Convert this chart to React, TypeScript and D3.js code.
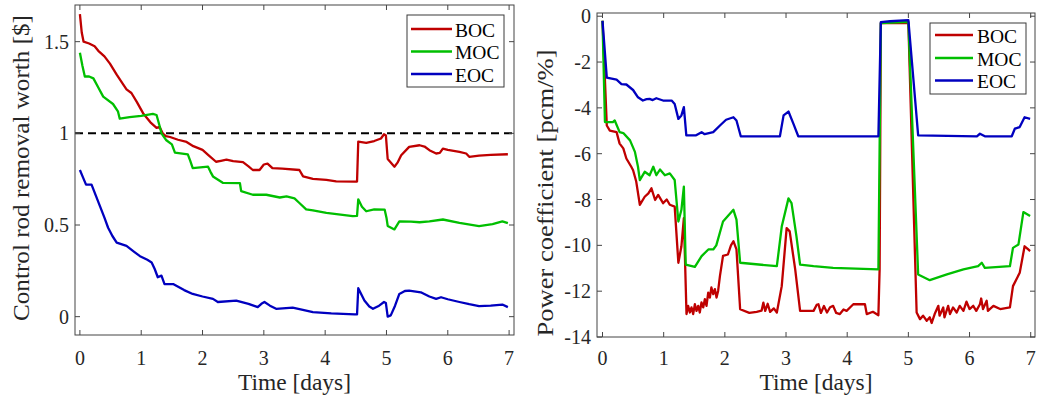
import React from "react";
import * as d3 from "d3";

// ---------- Data ----------
const dayTicks = [0, 1, 2, 3, 4, 5, 6, 7];
const worthTicks = [0, 0.5, 1, 1.5];
const coefTicks = [0, -2, -4, -6, -8, -10, -12, -14];
const seriesNames = ["BOC", "MOC", "EOC"];
const seriesColors = ["#bf0000", "#00bf00", "#0000bf"];

// Left panel: control rod removal worth [$]
const worthBOC_t = [0, 0.03, 0.06, 0.15, 0.24, 0.3, 0.4, 0.49, 0.6, 0.7, 0.76, 0.84, 0.93, 1.03, 1.15, 1.25, 1.3, 1.35, 1.4, 1.47, 1.6, 1.74, 1.85, 2.0, 2.1, 2.22, 2.3, 2.39, 2.5, 2.66, 2.75, 2.82, 2.93, 3.0, 3.06, 3.14, 3.3, 3.58, 3.64, 3.8, 4.02, 4.18, 4.48, 4.52, 4.54, 4.67, 4.8, 4.91, 4.96, 4.99, 5.02, 5.13, 5.18, 5.24, 5.37, 5.54, 5.62, 5.7, 5.81, 5.87, 5.92, 6.0, 6.19, 6.3, 6.35, 6.51, 6.7, 6.98];
const worthBOC_v = [1.65, 1.55, 1.5, 1.49, 1.475, 1.45, 1.42, 1.38, 1.32, 1.27, 1.24, 1.22, 1.17, 1.11, 1.06, 1.03, 1.035, 1.0, 0.985, 0.98, 0.965, 0.953, 0.93, 0.91, 0.88, 0.845, 0.85, 0.856, 0.848, 0.843, 0.82, 0.8, 0.8, 0.83, 0.835, 0.81, 0.807, 0.8, 0.765, 0.752, 0.746, 0.738, 0.737, 0.737, 0.955, 0.948, 0.958, 0.972, 0.995, 0.99, 0.86, 0.818, 0.84, 0.88, 0.926, 0.935, 0.928, 0.908, 0.89, 0.893, 0.917, 0.91, 0.899, 0.89, 0.872, 0.878, 0.882, 0.886];

const worthMOC_t = [0, 0.04, 0.08, 0.15, 0.22, 0.3, 0.38, 0.54, 0.62, 0.65, 0.81, 1.0, 1.19, 1.25, 1.3, 1.33, 1.41, 1.5, 1.55, 1.76, 1.8, 1.84, 2.09, 2.13, 2.17, 2.33, 2.61, 2.63, 2.82, 3.04, 3.26, 3.37, 3.5, 3.58, 3.69, 3.8, 4.02, 4.45, 4.52, 4.54, 4.6, 4.67, 4.8, 4.97, 5.0, 5.02, 5.13, 5.21, 5.4, 5.54, 5.7, 5.92, 6.19, 6.51, 6.73, 6.89, 6.98];
const worthMOC_v = [1.44, 1.37, 1.31, 1.31, 1.3, 1.25, 1.2, 1.16, 1.12, 1.08, 1.088, 1.095, 1.106, 1.1, 1.04, 1.0, 0.962, 0.94, 0.895, 0.885, 0.85, 0.81, 0.818, 0.79, 0.765, 0.73, 0.728, 0.685, 0.665, 0.665, 0.65, 0.656, 0.645, 0.62, 0.585, 0.58, 0.566, 0.548, 0.55, 0.64, 0.6, 0.575, 0.585, 0.584, 0.54, 0.495, 0.476, 0.52, 0.518, 0.515, 0.52, 0.53, 0.512, 0.494, 0.505, 0.52, 0.51];

const worthEOC_t = [0, 0.05, 0.1, 0.19, 0.26, 0.33, 0.4, 0.46, 0.53, 0.6, 0.76, 0.88, 0.98, 1.1, 1.17, 1.22, 1.27, 1.33, 1.38, 1.52, 1.7, 1.84, 2.0, 2.17, 2.25, 2.55, 2.75, 2.9, 2.96, 3.01, 3.1, 3.2, 3.47, 3.6, 3.8, 4.1, 4.48, 4.52, 4.54, 4.64, 4.72, 4.78, 4.88, 4.96, 4.99, 5.02, 5.07, 5.14, 5.21, 5.3, 5.37, 5.56, 5.7, 5.81, 5.89, 6.0, 6.19, 6.35, 6.51, 6.7, 6.89, 6.98];
const worthEOC_v = [0.8, 0.76, 0.72, 0.72, 0.66, 0.6, 0.54, 0.485, 0.44, 0.404, 0.386, 0.355, 0.33, 0.31, 0.296, 0.26, 0.215, 0.224, 0.178, 0.178, 0.145, 0.124, 0.11, 0.097, 0.08, 0.088, 0.07, 0.052, 0.07, 0.08, 0.06, 0.043, 0.049, 0.04, 0.025, 0.018, 0.012, 0.012, 0.155, 0.088, 0.055, 0.043, 0.06, 0.08, 0.075, 0.0, 0.007, 0.06, 0.124, 0.14, 0.142, 0.133, 0.11, 0.097, 0.106, 0.095, 0.08, 0.068, 0.058, 0.06, 0.066, 0.052];

// Right panel: power coefficient [pcm/%]
const coefBOC_t = [0, 0.07, 0.12, 0.23, 0.28, 0.34, 0.39, 0.47, 0.5, 0.55, 0.61, 0.69, 0.75, 0.8, 0.86, 0.91, 0.99, 1.05, 1.1, 1.18, 1.24, 1.29, 1.33,
  1.373, 1.4, 1.428, 1.455, 1.482, 1.51, 1.537, 1.564, 1.59, 1.618, 1.646, 1.673, 1.7, 1.728, 1.755, 1.78, 1.81, 1.837, 1.864, 1.89, 1.92, 1.97,
  2.05, 2.1, 2.14, 2.19, 2.25, 2.4, 2.52, 2.6, 2.63, 2.66, 2.7, 2.74, 2.8, 2.85, 2.93, 3.01, 3.06, 3.15, 3.23, 3.45, 3.5, 3.53, 3.57, 3.62, 3.67, 3.72, 3.77, 3.82, 3.88, 3.94, 3.99, 4.05, 4.1, 4.29, 4.32, 4.42, 4.51, 4.53, 4.55, 5.0,
  5.135, 5.19, 5.24, 5.3, 5.35, 5.38, 5.43, 5.49, 5.51, 5.57, 5.59, 5.65, 5.68, 5.73, 5.79, 5.84, 5.9, 5.95, 6.0, 6.06, 6.11, 6.17, 6.19, 6.22, 6.28, 6.3, 6.39, 6.5, 6.66,
  6.71, 6.82, 6.9, 6.96, 6.99];
const coefBOC_v = [-0.2, -4.77, -4.99, -5.06, -5.56, -5.77, -6.21, -6.57, -6.72, -7.2, -8.23, -7.88, -7.73, -7.51, -8.02, -7.8, -8.16, -8.0, -8.23, -8.31, -10.76, -10.04, -8.81,
  -13.0, -12.64, -12.93, -12.71, -13.0, -12.57, -12.86, -12.64, -12.93, -12.49, -12.71, -12.35, -12.64, -12.06, -12.28, -11.84, -12.13, -11.91, -12.28, -11.99, -11.33, -10.46,
  -10.4, -10.0, -9.82, -10.18, -12.79, -12.95, -12.9, -12.85, -12.5, -12.86, -12.55, -12.9, -12.75, -12.93, -11.78, -9.25, -9.39, -11.05, -12.86, -12.86, -12.6, -12.57, -12.95, -12.65, -12.93, -12.7, -12.64, -12.95, -13.0, -12.8, -12.86, -12.7, -12.57, -12.57, -13.0, -12.9, -13.05, -11.05, -0.3, -0.3,
  -12.93, -13.22, -13.07, -13.29, -13.14, -13.39, -13.0, -12.64, -13.07, -12.71, -13.14, -12.64, -13.0, -12.71, -12.93, -12.64, -12.86, -12.46, -12.78, -12.64, -12.86, -12.57, -12.32, -12.78, -12.42, -12.86, -12.64, -12.78, -12.71,
  -11.78, -11.2, -10.04, -10.18, -10.25];

const coefMOC_t = [0, 0.04, 0.17, 0.2, 0.28, 0.34, 0.45, 0.53, 0.58, 0.61, 0.69, 0.77, 0.83, 0.88, 0.94, 1.02, 1.1, 1.18, 1.24, 1.29, 1.33, 1.36, 1.51, 1.62, 1.73, 1.81, 1.86, 1.97, 2.14, 2.19, 2.25, 2.85, 2.93, 3.04, 3.09, 3.17, 3.23, 3.45, 3.77, 4.51, 4.55, 5.0, 5.16, 5.35, 5.63, 5.9, 6.14, 6.2, 6.25, 6.66, 6.71, 6.8, 6.88, 6.99];
const coefMOC_v = [-0.2, -4.62, -4.62, -4.55, -5.06, -5.1, -5.42, -5.92, -6.57, -7.15, -6.79, -6.94, -6.57, -6.94, -6.69, -6.94, -6.86, -7.15, -8.96, -8.45, -7.44, -10.84, -10.94, -10.47, -10.18, -10.18, -10.0, -8.96, -8.45, -8.88, -10.76, -10.91, -9.18, -7.95, -8.16, -9.6, -10.84, -10.91, -10.98, -11.05, -0.3, -0.25, -11.27, -11.52, -11.27, -11.05, -10.91, -10.76, -10.98, -10.91, -10.11, -9.96, -8.55, -8.72];

const coefEOC_t = [0, 0.07, 0.23, 0.31, 0.39, 0.5, 0.58, 0.66, 0.72, 0.77, 0.82, 0.88, 0.99, 1.13, 1.18, 1.24, 1.29, 1.33, 1.37, 1.53, 1.62, 1.67, 1.81, 1.92, 2.02, 2.14, 2.19, 2.26, 2.9, 2.96, 3.04, 3.12, 3.2, 4.51, 4.55, 4.7, 5.0, 5.16, 6.12, 6.17, 6.25, 6.69, 6.74, 6.82, 6.9, 6.99];
const coefEOC_v = [-0.2, -2.68, -2.77, -2.96, -2.98, -3.22, -3.54, -3.68, -3.62, -3.61, -3.66, -3.58, -3.68, -3.68, -3.83, -4.48, -4.33, -3.97, -5.2, -5.2, -5.06, -5.15, -5.06, -4.77, -4.52, -4.41, -4.55, -5.24, -5.24, -4.33, -4.16, -4.69, -5.24, -5.24, -0.26, -0.22, -0.17, -5.2, -5.24, -5.13, -5.24, -5.24, -4.91, -4.84, -4.41, -4.48];

const zip = (t: number[], v: number[]) => t.map((x, i) => [x, v[i]] as [number, number]);

const FONT = "'Liberation Serif', 'Times New Roman', serif";
const AXIS_COLOR = "#454545";

type PanelProps = {
  id: string;
  x0: number; x1: number; y0: number; y1: number;
  xDomain: [number, number];
  yDomain: [number, number];
  yTicks: number[];
  yFmt: (v: number) => string;
  series: [number, number][][];
  ylabel: string;
  ylabelX: number; ylabelY: number; ylabelLen: number;
  legend: { x: number; y: number; w: number; h: number; rows: number[]; lineX0: number; lineX1: number; textX: number };
  dashedAt?: number;
};

function Panel(p: PanelProps) {
  const x = d3.scaleLinear().domain(p.xDomain).range([p.x0, p.x1]);
  const y = d3.scaleLinear().domain(p.yDomain).range([p.y1, p.y0]);
  const line = d3.line<[number, number]>().x((d) => x(d[0])).y((d) => y(d[1]));
  const tl = 5;
  return (
    <g>
      <defs>
        <clipPath id={"clip-" + p.id}>
          <rect x={p.x0} y={p.y0} width={p.x1 - p.x0} height={p.y1 - p.y0} />
        </clipPath>
      </defs>
      <rect x={p.x0} y={p.y0} width={p.x1 - p.x0} height={p.y1 - p.y0} fill="white" />
      {p.dashedAt !== undefined && (
        <line x1={p.x0} x2={p.x1} y1={y(p.dashedAt)} y2={y(p.dashedAt)} stroke="#000" strokeWidth={2} strokeDasharray="8,5" />
      )}
      <g clipPath={`url(#clip-${p.id})`}>
        {p.series.map((s, i) => (
          <path key={i} d={line(s) || ""} fill="none" stroke={seriesColors[i]} strokeWidth={2.3} strokeLinejoin="round" />
        ))}
      </g>
      <rect x={p.x0} y={p.y0} width={p.x1 - p.x0} height={p.y1 - p.y0} fill="none" stroke={AXIS_COLOR} strokeWidth={1} />
      {dayTicks.map((t) => (
        <g key={"xt" + t}>
          <line x1={x(t)} x2={x(t)} y1={p.y1} y2={p.y1 - tl} stroke={AXIS_COLOR} />
          <line x1={x(t)} x2={x(t)} y1={p.y0} y2={p.y0 + tl} stroke={AXIS_COLOR} />
          <text x={x(t)} y={365} textAnchor="middle" fontFamily={FONT} fontSize={20} fill="#262626">{t}</text>
        </g>
      ))}
      {p.yTicks.map((t) => (
        <g key={"yt" + t}>
          <line x1={p.x0} x2={p.x0 + tl} y1={y(t)} y2={y(t)} stroke={AXIS_COLOR} />
          <line x1={p.x1} x2={p.x1 - tl} y1={y(t)} y2={y(t)} stroke={AXIS_COLOR} />
          <text x={p.x0 - 6} y={y(t)} dy="0.35em" textAnchor="end" fontFamily={FONT} fontSize={20} fill="#262626">{p.yFmt(t)}</text>
        </g>
      ))}
      <text x={(p.x0 + p.x1) / 2} y={390} textAnchor="middle" fontFamily={FONT} fontSize={23} fill="#262626" textLength={113} lengthAdjust="spacingAndGlyphs">Time [days]</text>
      <text transform={`translate(${p.ylabelX},${p.ylabelY}) rotate(-90)`} textAnchor="middle" fontFamily={FONT} fontSize={23} fill="#262626" textLength={p.ylabelLen} lengthAdjust="spacingAndGlyphs">{p.ylabel}</text>
      <rect x={p.legend.x} y={p.legend.y} width={p.legend.w} height={p.legend.h} fill="white" stroke="#3a3a3a" strokeWidth={1} />
      {seriesNames.map((n, i) => (
        <g key={n}>
          <line x1={p.legend.lineX0} x2={p.legend.lineX1} y1={p.legend.rows[i]} y2={p.legend.rows[i]} stroke={seriesColors[i]} strokeWidth={2.3} />
          <text x={p.legend.textX} y={p.legend.rows[i] + 7.5} fontFamily={FONT} fontSize={19.5} fill="#000">{n}</text>
        </g>
      ))}
    </g>
  );
}

export default function App() {
  const leftSeries = [zip(worthBOC_t, worthBOC_v), zip(worthMOC_t, worthMOC_v), zip(worthEOC_t, worthEOC_v)];
  const rightSeries = [zip(coefBOC_t, coefBOC_v), zip(coefMOC_t, coefMOC_v), zip(coefEOC_t, coefEOC_v)];
  return (
    <svg width={1043} height={399} style={{ position: "absolute", left: 0, top: 0, background: "white" }}>
      <rect width={1043} height={399} fill="white" />
      <Panel
        id="l"
        x0={75} x1={514} y0={5} y1={335}
        xDomain={[-0.08, 7.08]}
        yDomain={[-0.1, 1.7]}
        yTicks={worthTicks}
        yFmt={(v) => String(v)}
        series={leftSeries}
        ylabel="Control rod removal worth [$]"
        ylabelX={29} ylabelY={168} ylabelLen={306}
        legend={{ x: 407, y: 15, w: 97, h: 72, rows: [29, 51.5, 74], lineX0: 411, lineX1: 452, textX: 455 }}
        dashedAt={1}
      />
      <Panel
        id="r"
        x0={597} x1={1035} y0={13} y1={337}
        xDomain={[-0.09, 7.07]}
        yDomain={[-14, 0.14]}
        yTicks={coefTicks}
        yFmt={(v) => String(v)}
        series={rightSeries}
        ylabel="Power coefficient [pcm/%]"
        ylabelX={553} ylabelY={193} ylabelLen={287}
        legend={{ x: 930, y: 23, w: 96, h: 71, rows: [35, 58, 80.5], lineX0: 935, lineX1: 973, textX: 977 }}
      />
    </svg>
  );
}
